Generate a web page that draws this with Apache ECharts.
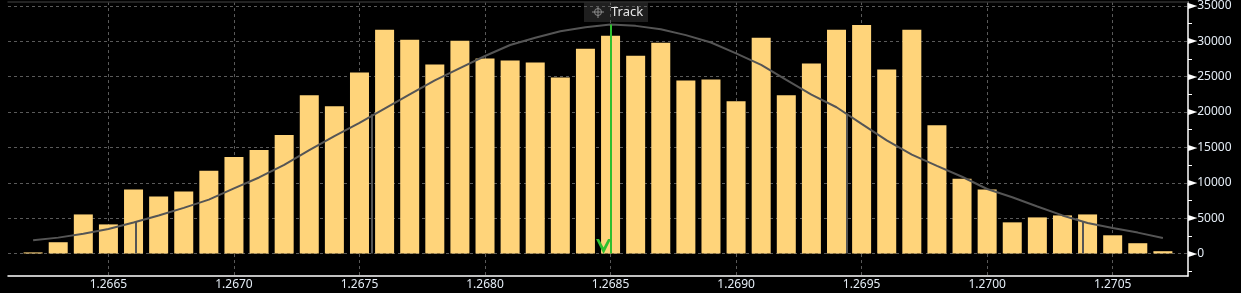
<!DOCTYPE html>
<html>
<head>
<meta charset="utf-8">
<script src="https://cdn.jsdelivr.net/npm/echarts@6/dist/echarts.min.js"></script>
<style>
html,body{margin:0;padding:0;background:#000;}
#chart{width:1241px;height:293px;}
</style>
</head>
<body>
<div id="chart"></div>
<script>
// ---- data ----
const bins = [1.2662,1.2663,1.2664,1.2665,1.2666,1.2667,1.2668,1.2669,1.2670,1.2671,1.2672,1.2673,1.2674,1.2675,1.2676,1.2677,1.2678,1.2679,1.2680,1.2681,1.2682,1.2683,1.2684,1.2685,1.2686,1.2687,1.2688,1.2689,1.2690,1.2691,1.2692,1.2693,1.2694,1.2695,1.2696,1.2697,1.2698,1.2699,1.2700,1.2701,1.2702,1.2703,1.2704,1.2705,1.2706,1.2707];
const barValues = [150,1590,5520,4110,9030,8040,8750,11700,13660,14640,16750,22360,20820,25590,31630,30230,26730,30090,27560,27280,27000,24900,28970,30790,27980,29800,24470,24610,21520,30510,22360,26870,31630,32330,26030,31630,18150,10570,9030,4400,5100,5380,5520,2570,1450,320];
const curveValues = [1870,2240,2800,3450,4390,5380,6450,7620,9210,10750,12530,14600,16610,18470,20490,22500,24470,26200,27930,29480,30500,31440,32000,32380,32190,31720,30880,29840,28300,26670,24560,22460,20680,18330,16000,13990,12400,10850,9120,7950,6640,5380,4300,3590,2950,2190];
const sigmaX = [1.26661,1.26755,1.26944,1.27038];
const sigmaY = [4440,19700,19740,4580];
const trackX = 1.2685;
const trackTop = 32380;
const xTickValues = [1.2665,1.2670,1.2675,1.2680,1.2685,1.2690,1.2695,1.2700,1.2705];
const yTickValues = [0,5000,10000,15000,20000,25000,30000,35000];
const yMinorTicks = [-2500,2500,7500,12500,17500,22500,27500,32500];
const xRange = [1.2661, 1.2708];
const yRange = [-3187, 35561];

// ---- chart ----
const chart = echarts.init(document.getElementById('chart'), null, {renderer: 'canvas'});
const labelColor = '#e4ecf5';
const gridDash = {color: '#5a5a5a', width: 1, type: [3, 3]};
const font = '"Noto Sans", "Open Sans", sans-serif';

const option = {
  backgroundColor: '#000',
  animation: false,
  grid: {left: 8, right: 53, top: 0, bottom: 17, containLabel: false},
  xAxis: [{
    type: 'value', min: xRange[0], max: xRange[1], position: 'bottom',
    axisLine: {show: true, onZero: false, lineStyle: {color: '#fff', width: 1.5}},
    axisTick: {show: false, customValues: xTickValues},
    axisLabel: {customValues: xTickValues, color: labelColor, fontSize: 12, fontFamily: font, margin: 3,
      formatter: v => v.toFixed(4)},
    splitLine: {show: true, lineStyle: gridDash}
  }, {
    type: 'value', min: xRange[0], max: xRange[1], position: 'top',
    axisLine: {show: true, onZero: false, lineStyle: {color: '#2e2e2e', width: 1.5}},
    axisTick: {show: false}, axisLabel: {show: false}, splitLine: {show: false}
  }],
  yAxis: [{
    type: 'value', min: yRange[0], max: yRange[1], position: 'right',
    axisLine: {show: true, onZero: false, lineStyle: {color: '#fff', width: 1.5}},
    axisTick: {show: false, customValues: yTickValues},
    axisLabel: {customValues: yTickValues, margin: 0, color: labelColor, fontSize: 12, fontFamily: font,
      formatter: v => '{t|\u25BA}' + v,
      rich: {t: {fontFamily: 'DejaVu Sans', fontSize: 12, color: '#ffffff', padding: [0, 0, 0, 0]}}},
    splitLine: {show: true, lineStyle: gridDash}
  }, {
    type: 'value', min: yRange[0], max: yRange[1], position: 'right',
    axisLine: {show: false},
    axisTick: {show: true, customValues: yMinorTicks, length: 4, lineStyle: {color: '#fff', width: 1}},
    axisLabel: {show: false}, splitLine: {show: false}
  }],
  series: [{
    type: 'bar', name: 'Volume', xAxisIndex: 0, yAxisIndex: 0,
    data: bins.map((b, i) => [b, barValues[i]]),
    barWidth: 19,
    itemStyle: {color: '#ffd47a'},
    z: 2
  }, {
    type: 'line', name: 'Normal', xAxisIndex: 0, yAxisIndex: 0,
    data: bins.map((b, i) => [b, curveValues[i]]),
    showSymbol: false, symbol: 'none',
    lineStyle: {color: '#555555', width: 2},
    z: 3,
    markLine: {
      silent: true, symbol: ['none', 'none'],
      label: {show: false},
      lineStyle: {color: '#555555', width: 2, type: 'solid'},
      data: sigmaX.map((x, i) => [{coord: [x, 0]}, {coord: [x, sigmaY[i]]}])
    }
  }, {
    type: 'line', name: 'Track', xAxisIndex: 0, yAxisIndex: 0,
    data: [], z: 5,
    markLine: {
      silent: true,
      symbol: ['none', 'path://M7,0 L14,14 L11.2,14 L7,6 L2.8,14 L0,14 Z'],
      symbolSize: [15, 15],
      symbolOffset: [0, 7],
      label: {show: false},
      lineStyle: {color: '#2fbf2f', width: 2, type: 'solid'},
      data: [[{coord: [trackX, trackTop]}, {coord: [trackX, 0]}]]
    }
  }],
  graphic: [{
    type: 'group', left: 584, top: 2, z: 100,
    children: [
      {type: 'rect', shape: {x: 0, y: 0, width: 64, height: 20}, style: {fill: 'rgba(34,34,34,0.9)'}},
      {type: 'circle', shape: {cx: 14, cy: 10, r: 3.5}, style: {fill: 'none', stroke: '#8a8a8a', lineWidth: 1}},
      {type: 'line', shape: {x1: 8, y1: 10, x2: 20, y2: 10}, style: {stroke: '#8a8a8a', lineWidth: 1}},
      {type: 'line', shape: {x1: 14, y1: 4, x2: 14, y2: 16}, style: {stroke: '#8a8a8a', lineWidth: 1}},
      {type: 'text', style: {x: 27, y: 10, text: 'Track', fill: '#e6e6e6', font: '13px "Noto Sans", sans-serif', verticalAlign: 'middle'}}
    ]
  }]
};
chart.setOption(option);
</script>
</body>
</html>
